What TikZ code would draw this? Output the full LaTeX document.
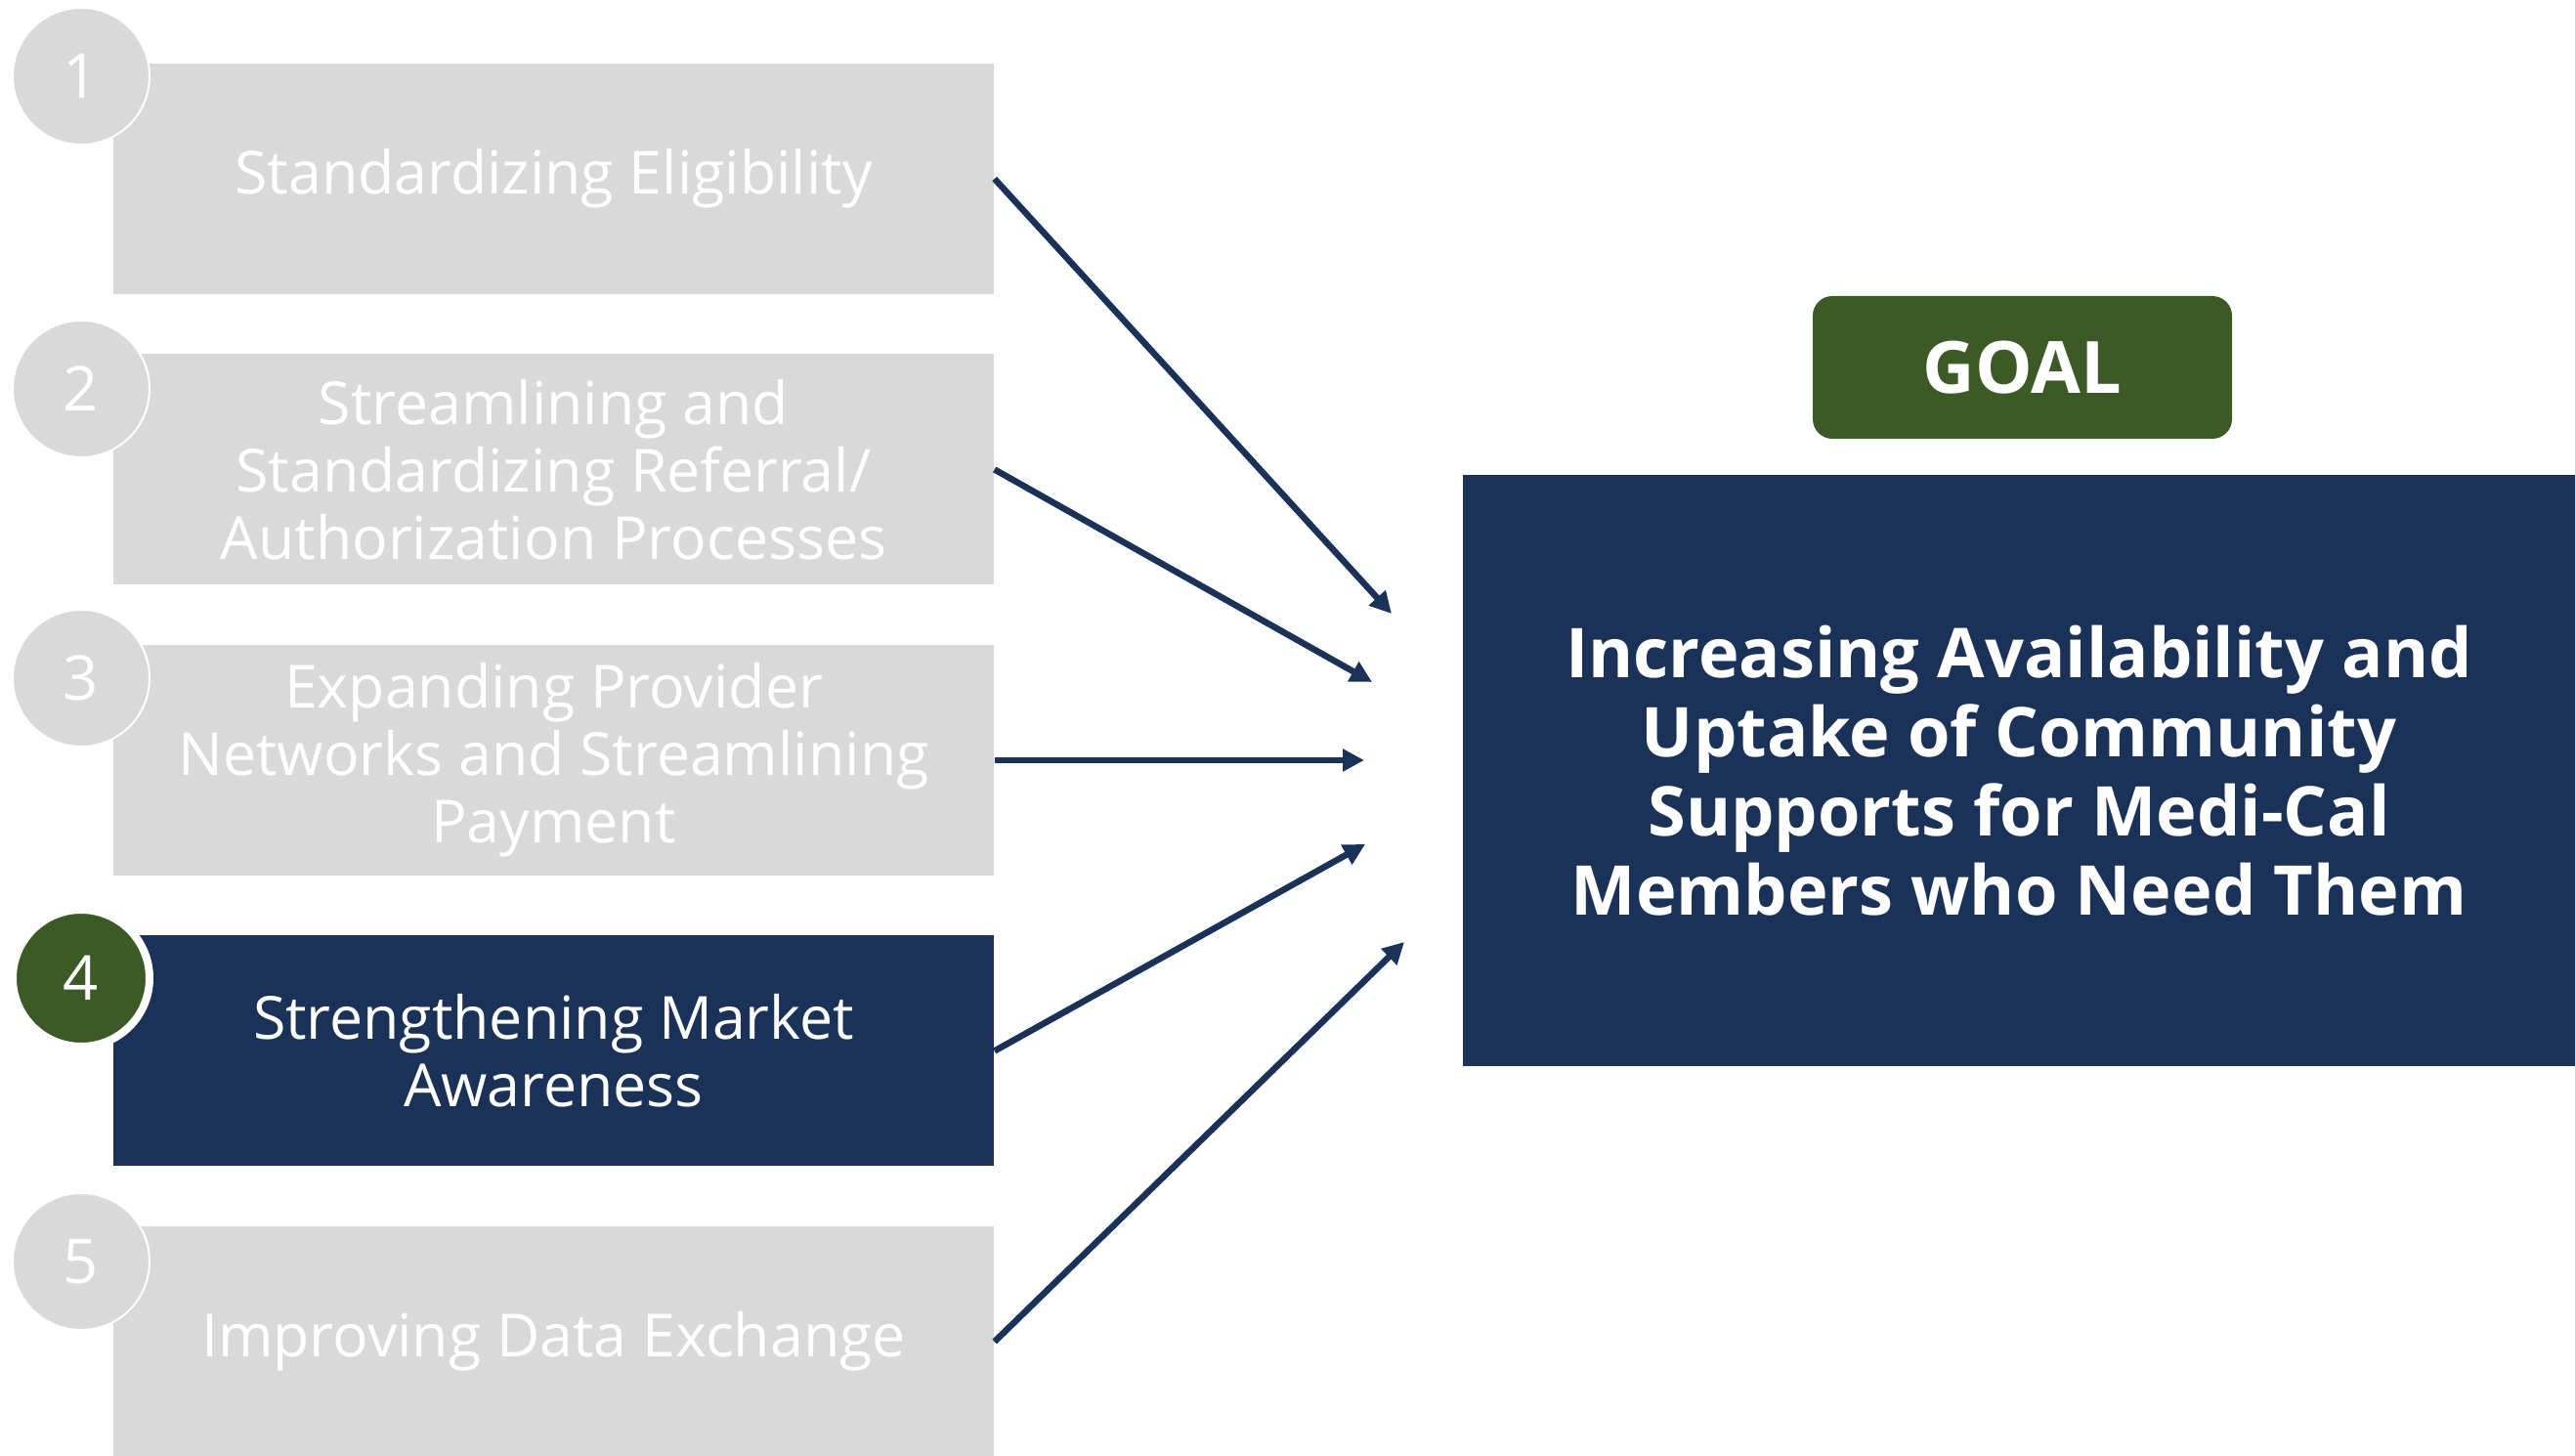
\documentclass[tikz,border=0pt]{standalone}
\usepackage{fontspec}
\setmainfont{Open Sans}
\usetikzlibrary{arrows.meta}
\definecolor{navy}{HTML}{1A3158}
\definecolor{goalgreen}{HTML}{3B5A25}
\definecolor{boxgrey}{HTML}{D9D9D9}

\begin{document}
\begin{tikzpicture}[
  stepbox/.style={rectangle, fill=boxgrey, minimum width=9.01cm, minimum height=2.36cm,
    text=white, align=center, font=\fontsize{17.3}{19.6}\selectfont},
  numdot/.style={circle, fill=boxgrey, draw=white, line width=0.02cm, minimum size=1.4cm,
    inner sep=0pt, text=white, font=\fontsize{18}{20}\selectfont},
  link/.style={navy, line width=0.065cm, -{Triangle[length=0.22cm, width=0.22cm]}}]
  \useasboundingbox (0,0) rectangle (26.35,14.90);
  \node[stepbox] (s1) at (5.665, 13.07) {Standardizing Eligibility};
  \node[stepbox] (s2) at (5.665, 10.095) {Streamlining and\\Standardizing Referral/\\Authorization Processes};
  \node[stepbox] (s3) at (5.665, 7.12) {Expanding Provider\\Networks and Streamlining\\Payment};
  \node[stepbox, fill=navy] (s4) at (5.665, 4.145) {Strengthening Market\\Awareness};
  \node[stepbox] (s5) at (5.665, 1.17) {Improving Data Exchange};
  \node[numdot] (n1) at (0.83, 14.12) {1};
  \node[numdot] (n2) at (0.83, 10.92) {2};
  \node[numdot] (n3) at (0.83, 7.96) {3};
  \node[numdot, fill=goalgreen, line width=0.08cm] (n4) at (0.83, 4.89) {4};
  \node[numdot] (n5) at (0.83, 1.99) {5};
  % goal
  \node[rectangle, rounded corners=0.2cm, fill=goalgreen, minimum width=4.29cm, minimum height=1.46cm,
    text=white, font=\fontsize{21}{25}\selectfont\bfseries] (goal) at (20.695, 11.14) {GOAL};
  \node[rectangle, fill=navy, minimum width=11.38cm, minimum height=6.05cm, text=white, align=center,
    font=\fontsize{20}{23}\selectfont\bfseries] (aim) at (20.66, 7.015)
    {Increasing Availability and\\Uptake of Community\\Supports for Medi-Cal\\Members who Need Them};
  \coordinate (t1) at (14.24, 8.62);
  \coordinate (t2) at (14.04, 7.92);
  \coordinate (t3) at (13.96, 7.12);
  \coordinate (t4) at (13.97, 6.26);
  \coordinate (t5) at (14.37, 5.26);
  \draw[link] (s1.east) -- (t1);
  \draw[link] (s2.east) -- (t2);
  \draw[link] (s3.east) -- (t3);
  \draw[link] (s4.east) -- (t4);
  \draw[link] (s5.east) -- (t5);
\end{tikzpicture}
\end{document}
